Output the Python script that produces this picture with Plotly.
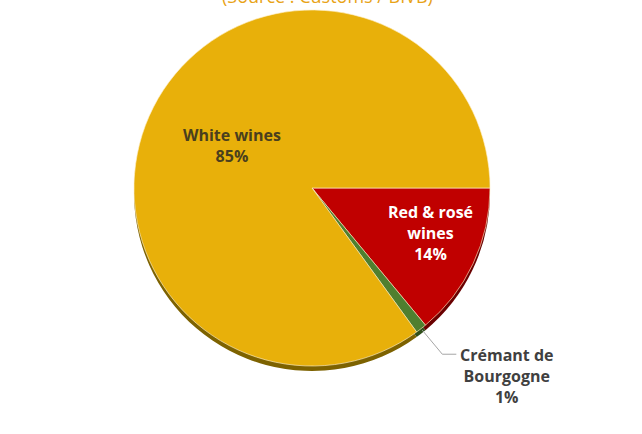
import math
import plotly.graph_objects as go

# ---- data ----
categories = ["Red & rosé wines", "Crémant de Bourgogne", "White wines"]
label_lines = ["Red & rosé<br>wines", "Crémant de<br>Bourgogne", "White wines"]
shares = [14, 1, 85]
colors = ["#C00000", "#4F7F2F", "#E8B00A"]
shadow_colors = ["#6A0000", "#2F4F1A", "#7D6200"]
title_text = "(Source : Customs / BIVB)"

W, H = 642, 434
CX, CY, R = 312, 188, 178  # pie centre / radius in pixels
DEPTH = 5                   # 3-D rim depth in pixels


def px_to_paper(x, y):
    return x / W, 1 - y / H


def domain(dy=0):
    x0, y0 = px_to_paper(CX - R, CY + R + dy)
    x1, y1 = px_to_paper(CX + R, CY - R + dy)
    return dict(x=[x0, x1], y=[y0, y1])


fig = go.Figure()
# rim / shadow (3-D look)
fig.add_trace(go.Pie(
    labels=categories, values=shares, sort=False, direction="clockwise",
    rotation=90, domain=domain(DEPTH), textinfo="none", hoverinfo="skip",
    marker=dict(colors=shadow_colors, line=dict(width=0)), showlegend=False))
# main pie
fig.add_trace(go.Pie(
    labels=categories, values=shares, sort=False, direction="clockwise",
    rotation=90, domain=domain(0), textinfo="none",
    marker=dict(colors=colors, line=dict(color="rgba(255,240,200,0.8)", width=0.8)),
    showlegend=False))

# label positions derived from slice mid angles
total = sum(shares)
cum = 0
mids = []
for v in shares:
    mids.append(90 + 360 * (cum + v / 2) / total)
    cum += v


def polar(theta, r):
    t = math.radians(theta)
    return CX + r * math.sin(t), CY - r * math.cos(t)

font_family = "Open Sans, Liberation Sans, sans-serif"
FS = 16
annotations = []
# red
x, y = polar(mids[0], R * 0.70)
xp, yp = px_to_paper(x + 6, y - 8)
annotations.append(dict(x=xp, y=yp, xref="paper", yref="paper", showarrow=False,
                        xanchor="center", yanchor="middle",
                        text=f"<b>{label_lines[0]}<br>{shares[0]}%</b>",
                        font=dict(family=font_family, size=FS, color="white")))
# white
x, y = polar(mids[2], R * 0.52)
xp, yp = px_to_paper(x + 2, y)
annotations.append(dict(x=xp, y=yp, xref="paper", yref="paper", showarrow=False,
                        xanchor="center", yanchor="middle",
                        text=f"<b>{label_lines[2]}<br>{shares[2]}%</b>",
                        font=dict(family=font_family, size=FS, color="#4A3F1E")))
# crémant (outside with leader line)
ex, ey = polar(mids[1], R + 2)
elbow = (ex + 20, ey + 24)
end = (elbow[0] + 14, elbow[1])
xp, yp = px_to_paper(end[0] + 50, end[1] - 12)
annotations.append(dict(x=xp, y=yp, xref="paper", yref="paper", showarrow=False,
                        xanchor="center", yanchor="top", align="center",
                        text=f"<b>{label_lines[1]}<br>{shares[1]}%</b>",
                        font=dict(family=font_family, size=FS, color="#404040")))
# title (partly cut off at the top, as in the original)
annotations.append(dict(x=327 / W, y=1 + 4 / H, xref="paper", yref="paper",
                        showarrow=False, xanchor="center", yanchor="middle",
                        text=title_text,
                        font=dict(family=font_family, size=18, color="#E8A317")))

p0 = px_to_paper(ex, ey)
p1 = px_to_paper(*elbow)
p2 = px_to_paper(*end)
shapes = [dict(type="path", xref="paper", yref="paper",
               path=f"M {p0[0]} {p0[1]} L {p1[0]} {p1[1]} L {p2[0]} {p2[1]}",
               line=dict(color="#A6A6A6", width=1))]

fig.update_layout(width=W, height=H, margin=dict(l=0, r=0, t=0, b=0),
                  paper_bgcolor="white", plot_bgcolor="white",
                  annotations=annotations, shapes=shapes)
fig.write_html("out.html")
